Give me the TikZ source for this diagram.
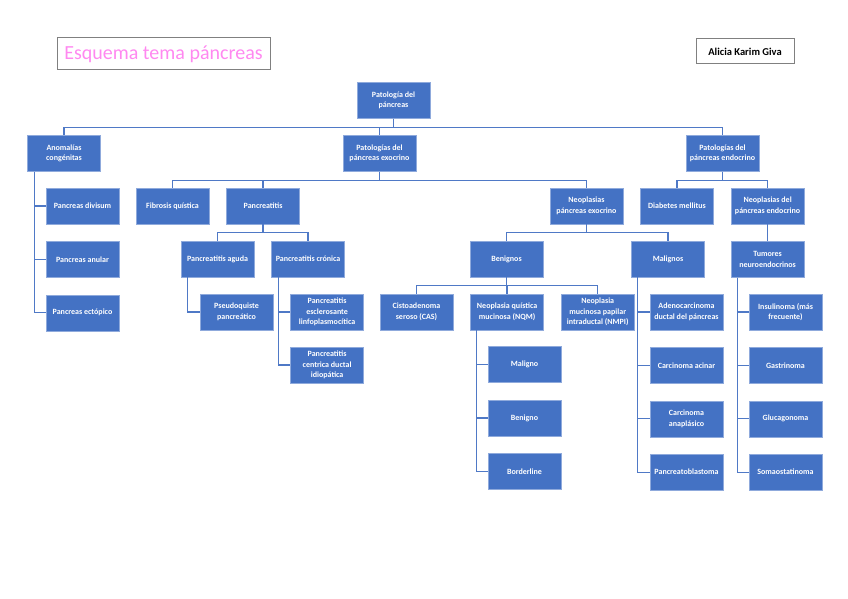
\documentclass[tikz,border=0pt]{standalone}
\usepackage{fontspec}
\setmainfont{Carlito}
\usepackage{tikz}
\usetikzlibrary{positioning, calc}
\definecolor{boxblue}{HTML}{4472C4}
\definecolor{edgeblue}{HTML}{8FAADC}
\definecolor{linkblue}{HTML}{4F79C6}
\definecolor{titlepink}{HTML}{FF88F0}
\tikzstyle{topic} = [rectangle, minimum width=73pt, minimum height=36pt, inner sep=1pt, align=center, font=\fontsize{8}{10.5}\selectfont\bfseries, text=white, fill=boxblue, draw=edgeblue, line width=0.6pt]
\tikzstyle{link} = [line width=1.3pt, color=linkblue]
\tikzstyle{headbox} = [rectangle, draw=gray, line width=1pt, align=center]

\begin{document}
\begin{tikzpicture}[x=1pt, y=-1pt]
    \useasboundingbox (0,0) rectangle (848,599);

    \node (title) [headbox, minimum width=213pt, minimum height=32pt, text=titlepink, font=\fontsize{20}{22}\selectfont] at (163.5,54) {Esquema tema páncreas};
    \node (author) [headbox, minimum width=98pt, minimum height=25pt, font=\fontsize{10.5}{12}\selectfont\bfseries] at (745,51.5) {Alicia Karim Giva};

    % main levels
    \node (root) [topic] at (393.5,100.5) {Patología del\\páncreas};
    \node (anom) [topic] at (64,153.5) {Anomalías\\congénitas};
    \node (exo) [topic] at (379.5,153.5) {Patologías del\\páncreas exocrino};
    \node (endo) [topic] at (722.5,153.5) {Patologías del\\páncreas endocrino};

    % congenital anomalies
    \node (divisum) [topic] at (82.5,206) {Pancreas divisum};
    \node (anular) [topic, below=16.8pt of divisum] {Pancreas anular};
    \node (ectopico) [topic, below=16.8pt of anular] {Pancreas ectópico};

    % exocrine
    \node (fibrosis) [topic] at (172.5,206) {Fibrosis quística};
    \node (pancr) [topic, right=17pt of fibrosis] {Pancreatitis};
    \node (neoexo) [topic] at (586.5,206) {Neoplasias\\páncreas exocrino};
    \node (aguda) [topic] at (217.5,259) {Pancreatitis aguda};
    \node (cronica) [topic, right=17pt of aguda] {Pancreatitis crónica};
    \node (pseudo) [topic] at (236.5,312) {Pseudoquiste\\pancreático};
    \node (escler) [topic, right=17pt of pseudo] {Pancreatitis\\esclerosante\\linfoplasmocítica};
    \node (centrica) [topic, below=16.5pt of escler] {Pancreatitis\\centrica ductal\\idiopática};

    \node (benig) [topic] at (506.5,259) {Benignos};
    \node (malig) [topic] at (668,259) {Malignos};
    \node (cas) [topic] at (416.5,312) {Cistoadenoma\\seroso (CAS)};
    \node (nqm) [topic, right=17pt of cas] {Neoplasia quística\\mucinosa (NQM)};
    \node (nmpi) [topic, right=17pt of nqm] {Neoplasia\\mucinosa papilar\\intraductal (NMPI)};
    \node (maligno) [topic] at (524.5,364.5) {Maligno};
    \node (benigno) [topic, below=16.8pt of maligno] {Benigno};
    \node (border) [topic, below=16.8pt of benigno] {Borderline};

    \node (adeno) [topic] at (686.5,312) {Adenocarcinoma\\ductal del páncreas};
    \node (acinar) [topic, below=16.8pt of adeno] {Carcinoma acinar};
    \node (anapl) [topic, below=16.8pt of acinar] {Carcinoma\\anaplásico};
    \node (pblast) [topic, below=16.8pt of anapl] {Pancreatoblastoma};

    % endocrine
    \node (diab) [topic] at (677,206) {Diabetes mellitus};
    \node (neoendo) [topic, right=17pt of diab] {Neoplasias del\\páncreas endocrino};
    \node (tumores) [topic, below=17pt of neoendo] {Tumores\\neuroendocrinos};
    \node (insul) [topic] at (785.5,312) {Insulinoma (más\\frecuente)};
    \node (gastr) [topic, below=16.8pt of insul] {Gastrinoma};
    \node (gluc) [topic, below=16.8pt of gastr] {Glucagonoma};
    \node (soma) [topic, below=16.8pt of gluc] {Somaostatinoma};

    % tree connectors
    \foreach \kid in {anom, exo, endo}
        \draw [link] (root.south) -- ++(0pt,-9pt) -| (\kid.north);
    \foreach \kid in {fibrosis, pancr, neoexo}
        \draw [link] (exo.south) -- ++(0pt,-9pt) -| (\kid.north);
    \foreach \kid in {diab, neoendo}
        \draw [link] (endo.south) -- ++(0pt,-9pt) -| (\kid.north);
    \foreach \kid in {aguda, cronica}
        \draw [link] (pancr.south) -- ++(0pt,-8.5pt) -| (\kid.north);
    \foreach \kid in {benig, malig}
        \draw [link] (neoexo.south) -- ++(0pt,-8.5pt) -| (\kid.north);
    \foreach \kid in {cas, nqm, nmpi}
        \draw [link] (benig.south) -- ++(0pt,-8.5pt) -| (\kid.north);
    \draw [link] (neoendo) -- (tumores);

    % side lists
    \foreach \kid in {divisum, anular, ectopico}
        \draw [link] ([xshift=7pt]anom.south west) |- (\kid.west);
    \draw [link] ([xshift=7pt]aguda.south west) |- (pseudo.west);
    \foreach \kid in {escler, centrica}
        \draw [link] ([xshift=7pt]cronica.south west) |- (\kid.west);
    \foreach \kid in {maligno, benigno, border}
        \draw [link] ([xshift=6.5pt]nqm.south west) |- (\kid.west);
    \foreach \kid in {adeno, acinar, anapl, pblast}
        \draw [link] ([xshift=6.5pt]malig.south west) |- (\kid.west);
    \foreach \kid in {insul, gastr, gluc, soma}
        \draw [link] ([xshift=6.5pt]tumores.south west) |- (\kid.west);
\end{tikzpicture}
\end{document}
